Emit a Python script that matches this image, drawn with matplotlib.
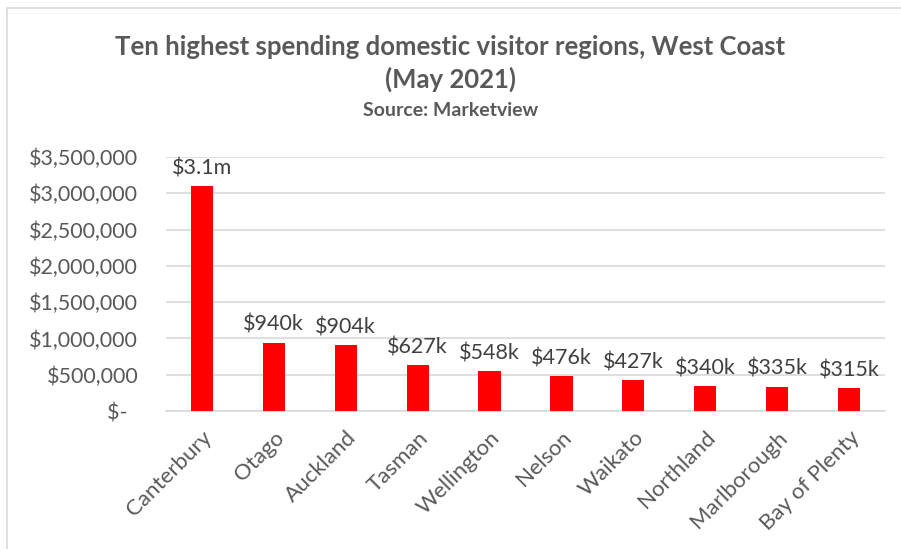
import matplotlib.pyplot as plt
from matplotlib.patches import Rectangle
from matplotlib.ticker import FuncFormatter

regions = ['Canterbury', 'Otago', 'Auckland', 'Tasman', 'Wellington',
           'Nelson', 'Waikato', 'Northland', 'Marlborough', 'Bay of Plenty']
spend = [3100000, 940000, 904000, 627000, 548000,
         476000, 427000, 340000, 335000, 315000]
labels = ['$3.1m', '$940k', '$904k', '$627k', '$548k',
          '$476k', '$427k', '$340k', '$335k', '$315k']

plt.rcParams['font.family'] = ['Lato', 'DejaVu Sans']
grey = '#595959'

fig = plt.figure(figsize=(9.01, 5.49), dpi=100)
ax = fig.add_axes([166 / 901, 1 - 411 / 549, (885 - 166) / 901, (411 - 157) / 549])

# chart frame
fig.patches.append(Rectangle((7 / 901, -0.01), 1.0, 1 - 8 / 549 + 0.01,
                             transform=fig.transFigure, fill=False,
                             edgecolor='#d9d9d9', linewidth=1.2))

x = range(len(regions))
ax.bar(x, spend, width=0.31, color='#ff0000', zorder=3)
for i, v in enumerate(spend):
    ax.text(i, v + 110000, labels[i], ha='center', va='bottom',
            fontsize=15.5, color='#404040')

ax.set_xlim(-0.5, len(regions) - 0.5)
ax.set_ylim(0, 3500000)
ax.set_yticks(range(0, 3500001, 500000))


def money(v, pos):
    if v == 0:
        return '$-  '
    return '${:,.0f}'.format(v)


ax.yaxis.set_major_formatter(FuncFormatter(money))
ax.grid(axis='y', color='#d9d9d9', linewidth=1.2, zorder=0)
for s in ['top', 'right', 'left']:
    ax.spines[s].set_visible(False)
ax.spines['bottom'].set_color('#d9d9d9')
ax.spines['bottom'].set_linewidth(1.2)
ax.tick_params(axis='y', length=0, labelsize=15.5, colors=grey, pad=20)
ax.tick_params(axis='x', length=0, labelsize=16, colors=grey, pad=12)

ax.set_xticks(list(x))
ax.set_xticklabels(regions, rotation=45, ha='right', rotation_mode='anchor')

fig.text(0.5, 1 - 47 / 549, 'Ten highest spending domestic visitor regions, West Coast',
         ha='center', va='center', fontsize=18.5, fontweight='bold', color=grey)
fig.text(0.5, 1 - 79 / 549, '(May 2021)', ha='center', va='center',
         fontsize=18.5, fontweight='bold', color=grey)
fig.text(0.5, 1 - 111 / 549, 'Source: Marketview', ha='center', va='center',
         fontsize=14, fontweight='bold', color=grey)

fig.savefig('out.png', dpi=100)
